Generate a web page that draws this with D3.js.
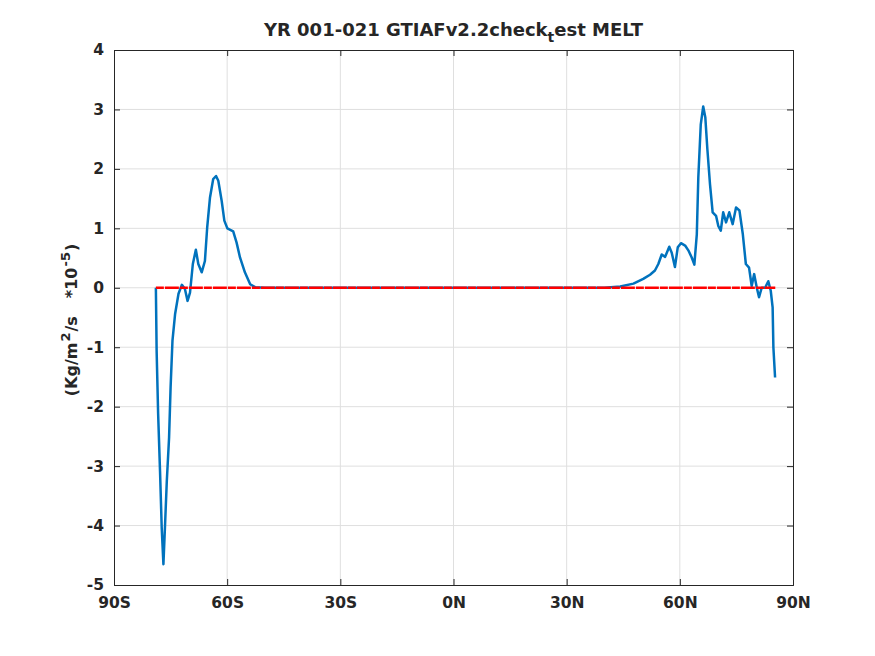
<!DOCTYPE html>
<html>
<head>
<meta charset="utf-8">
<script src="https://cdn.jsdelivr.net/npm/d3@7"></script>
<style>
  body { margin: 0; background: #fff; }
  text { font-family: "DejaVu Sans", sans-serif; font-weight: bold; fill: #262626; }
</style>
</head>
<body>
<script>
var w = 875;
var h = 656;
var margin = {left: 114, right: 82, top: 50, bottom: 71};

// latitude (deg) of the blue melt curve
var lats = [-78.9, -78.7, -78.3, -77.8, -77.35, -76.9, -76.5, -76.0, -75.4, -75.0, -74.5,
            -73.8, -72.9, -72.0, -71.2, -70.5, -69.85, -69.1, -68.3, -67.65, -66.75, -65.9,
            -65.3, -64.55, -63.7, -62.95, -62.35, -61.45, -60.75, -59.95, -58.4, -57.5, -56.6,
            -55.3, -53.9, -52.6, -50, 0, 40,
            44.2, 47.7, 50.3, 52.1, 53.4, 54.3, 55.2, 56.1, 57.2, 57.85, 58.7, 59.45, 60.3,
            61.4, 62.25, 63.15, 63.85, 64.5, 64.9, 65.55, 66.2, 66.75, 67.3, 68.0, 68.7,
            69.6, 70.2, 70.85, 71.5, 72.25, 73.1, 74.0, 74.9, 75.8, 76.7, 77.5, 78.35,
            79.05, 79.7, 80.4, 81.0, 81.7, 82.6, 83.45, 84.1, 84.6, 84.8, 85.25];
// melt value (*1e-5 kg/m2/s)
var melt = [0, -1.06, -2.12, -3.08, -4.04, -4.65, -4.04, -3.25, -2.52, -1.68, -0.89,
            -0.44, -0.1, 0.05, -0.02, -0.22, -0.08, 0.4, 0.64, 0.4, 0.26, 0.45,
            1.01, 1.52, 1.83, 1.88, 1.8, 1.46, 1.13, 1.0, 0.95, 0.76, 0.51,
            0.26, 0.06, 0.01, 0, 0, 0,
            0.02, 0.07, 0.15, 0.22, 0.29, 0.4, 0.56, 0.52, 0.69, 0.59, 0.35, 0.68, 0.75,
            0.71, 0.63, 0.51, 0.39, 0.9, 1.86, 2.75, 3.05, 2.87, 2.33, 1.74, 1.27,
            1.21, 1.04, 0.96, 1.27, 1.10, 1.27, 1.07, 1.35, 1.30, 0.9, 0.4, 0.34,
            0.03, 0.23, 0.0, -0.16, 0.0, 0.0, 0.11, -0.05, -0.33, -1.0, -1.51];

// zero reference line extent
var zeroLats = [-78.9, 85.3];

var xTicks = [-90, -60, -30, 0, 30, 60, 90];
var xTickLabels = ["90S", "60S", "30S", "0N", "30N", "60N", "90N"];
var yTicks = [-5, -4, -3, -2, -1, 0, 1, 2, 3, 4];

var xScale = d3.scaleLinear().domain([-90, 90]).range([margin.left, w - margin.right]);
var yScale = d3.scaleLinear().domain([-5, 4]).range([h - margin.bottom, margin.top]);

var svg = d3.select("body").append("svg")
    .attr("width", w)
    .attr("height", h);

// grid
svg.append("g").selectAll("line")
    .data(xTicks.slice(1, -1))
    .enter().append("line")
    .attr("x1", function(d) { return xScale(d); })
    .attr("x2", function(d) { return xScale(d); })
    .attr("y1", yScale(-5))
    .attr("y2", yScale(4))
    .attr("stroke", "#dfdfdf")
    .attr("stroke-width", 1);

svg.append("g").selectAll("line")
    .data(yTicks.slice(1, -1))
    .enter().append("line")
    .attr("x1", xScale(-90))
    .attr("x2", xScale(90))
    .attr("y1", function(d) { return yScale(d); })
    .attr("y2", function(d) { return yScale(d); })
    .attr("stroke", "#dfdfdf")
    .attr("stroke-width", 1);

// axes (ticks inside)
var xAxis = d3.axisBottom(xScale)
    .tickValues(xTicks)
    .tickSize(-6)
    .tickPadding(12)
    .tickFormat(function(d, i) { return xTickLabels[i]; });

var yAxis = d3.axisLeft(yScale)
    .tickValues(yTicks)
    .tickSize(-6)
    .tickPadding(10)
    .tickFormat(function(d) { return String(d); });

var xTop = d3.axisTop(xScale).tickValues(xTicks).tickSize(-6).tickFormat("");
var yRight = d3.axisRight(yScale).tickValues(yTicks).tickSize(-6).tickFormat("");

function styleAxis(g) {
  g.select(".domain").attr("stroke", "#262626").attr("stroke-width", 1);
  g.selectAll(".tick line").attr("stroke", "#262626");
  g.selectAll(".tick text")
    .attr("font-family", "DejaVu Sans")
    .attr("font-weight", "bold")
    .attr("font-size", 15.5)
    .attr("fill", "#262626");
}

svg.append("g")
    .attr("transform", "translate(0," + yScale(-5) + ")")
    .call(xAxis)
    .call(styleAxis);

svg.append("g")
    .attr("transform", "translate(" + xScale(-90) + ",0)")
    .call(yAxis)
    .call(styleAxis);

svg.append("g")
    .attr("transform", "translate(0," + yScale(4) + ")")
    .call(xTop)
    .call(styleAxis);

svg.append("g")
    .attr("transform", "translate(" + xScale(90) + ",0)")
    .call(yRight)
    .call(styleAxis);

// melt curve
var line = d3.line()
    .x(function(d) { return xScale(d[0]); })
    .y(function(d) { return yScale(d[1]); });

svg.append("path")
    .datum(d3.zip(lats, melt))
    .attr("d", line)
    .attr("fill", "none")
    .attr("stroke", "#0072BD")
    .attr("stroke-width", 2.5)
    .attr("stroke-linejoin", "round");

// zero line
svg.append("path")
    .datum(zeroLats.map(function(d) { return [d, 0]; }))
    .attr("d", line)
    .attr("fill", "none")
    .attr("stroke", "#ff0000")
    .attr("stroke-width", 2.5)
    .attr("stroke-dasharray", "8,1,14,1");

// title
var title = svg.append("text")
    .attr("x", (xScale(-90) + xScale(90)) / 2)
    .attr("y", 36)
    .attr("text-anchor", "middle")
    .attr("font-size", 18);
title.append("tspan").text("YR 001-021 GTIAFv2.2check");
title.append("tspan").attr("font-size", 14).attr("dy", 6).text("t");
title.append("tspan").attr("dy", -6).text("est MELT");

// y label
var ylab = svg.append("text")
    .attr("transform", "translate(77,320) rotate(-90)")
    .attr("text-anchor", "middle")
    .attr("font-size", 16);
ylab.append("tspan").text("(Kg/m");
ylab.append("tspan").attr("font-size", 13).attr("dx", 1).attr("dy", -7).text("2");
ylab.append("tspan").attr("dx", 1).attr("dy", 7).text("/s");
ylab.append("tspan").attr("dx", 18).text("*10");
ylab.append("tspan").attr("font-size", 13).attr("dx", 1).attr("dy", -7).text("-5");
ylab.append("tspan").attr("dx", 1).attr("dy", 7).text(")");
</script>
</body>
</html>
